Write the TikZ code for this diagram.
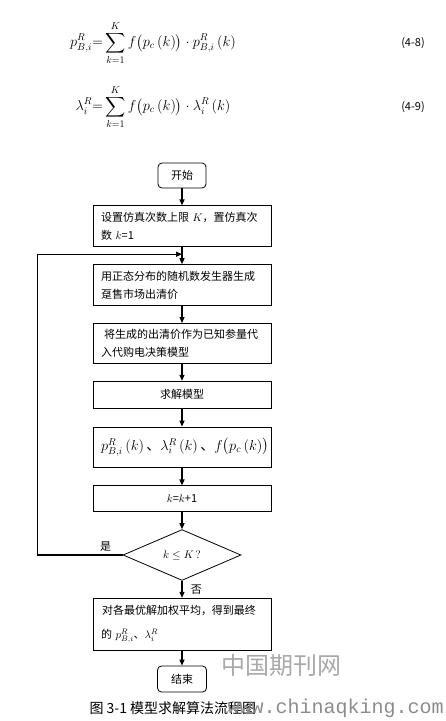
\documentclass[tikz,border=0pt]{standalone}
\usepackage{amsmath,amssymb}
\usepackage{fontspec}
\newfontfamily\cjk{Noto Sans CJK SC}
\newfontfamily\wmono{Liberation Mono}
\usetikzlibrary{arrows.meta,positioning,shapes.geometric}

\begin{document}
\begin{tikzpicture}[
  x=1pt, y=1pt,
  node distance=17pt,
  box/.style={rectangle, draw=black, line width=0.8pt,
              minimum height=41pt, inner xsep=8pt, text width=162pt,
              align=left, font=\cjk\fontsize{11}{18}\selectfont},
  cbox/.style={box, align=center},
  tbox/.style={rectangle, draw=black, line width=0.8pt, rounded corners=4pt,
               minimum width=48pt, minimum height=25pt,
               font=\cjk\fontsize{11}{13}\selectfont},
  dbox/.style={diamond, draw=black, line width=0.8pt, inner sep=1pt,
               minimum width=118pt, minimum height=45pt,
               font=\fontsize{11}{13}\selectfont},
  lbl/.style={font=\cjk\fontsize{11}{13}\selectfont},
  arr/.style={-{Triangle[length=6pt,width=5pt]}, line width=1.2pt, draw=black}
]
\useasboundingbox (0,0) rectangle (446,-721);
%% ── Equations (top) ─────────────────────────────────────────────────────
\node (eqa) at (153,-43) {\fontsize{14}{16}\selectfont
  $\displaystyle p_{B,i}^{R}{=}\sum_{k=1}^{K} f\bigl(p_c\,(k)\bigr)\cdot p_{B,i}^{R}\,(k)$};
\node[lbl] (taga) at (413,-43) {(4-8)};
\node (eqb) at (153,-107) {\fontsize{14}{16}\selectfont
  $\displaystyle \lambda_{i}^{R}{=}\sum_{k=1}^{K} f\bigl(p_c\,(k)\bigr)\cdot \lambda_{i}^{R}\,(k)$};
\node[lbl] (tagb) at (413,-107) {(4-9)};
%% ── Flow chart (top → bottom) ───────────────────────────────────────────
\node[tbox] (start) at (182,-175.5) {开始};
\node[box, below=of start] (set)
      {设置仿真次数上限 $K$，置仿真次\\数 $k$=1};
\node[box, below=of set] (gen)
      {用正态分布的随机数发生器生成\\趸售市场出清价};
\node[box, below=of gen, minimum height=40pt] (use)
      {\hspace{3pt}将生成的出清价作为已知参量代\\入代购电决策模型};
\node[cbox, below=of use, minimum height=27pt] (solve) {求解模型};
\node[cbox, below=18pt of solve, minimum height=40pt,
      font=\fontsize{14}{16}\selectfont] (res)
      {$p_{B,i}^{R}\,(k)$\,{\cjk 、}$\lambda_{i}^{R}\,(k)$\,{\cjk 、}$f\bigl(p_c\,(k)\bigr)$};
\node[cbox, below=18pt of res, minimum height=26pt] (inc) {$k$=$k$+1};
\node[dbox, below=of inc] (chk) {$k\leq K\,?$};
\node[box, below=of chk, minimum height=52pt, inner xsep=8pt] (avg)
      {\hspace{1pt}对各最优解加权平均，得到最终\\[6pt]的 $p_{B,i}^{R}$、$\lambda_{i}^{R}$};
\node[tbox, below=15pt of avg, minimum width=49pt, minimum height=26pt] (stop) {结束};
%% ── Caption and marks ───────────────────────────────────────────────────
\node[anchor=west, text=black!75, font=\cjk\fontsize{24}{26}\selectfont,
      text opacity=0.45] (wmk) at (218,-665) {中国期刊网};
\node[anchor=west, font=\cjk\fontsize{14}{16}\selectfont] (cap) at (86,-708)
      {图 3-1 模型求解算法流程图};
\node[anchor=west, text=black!45, font=\wmono\fontsize{20}{22}\selectfont]
      (url) at (224,-708) {www.chinaqking.com};
%% ── Arrows ──────────────────────────────────────────────────────────────
\coordinate (join) at ([yshift=-7pt]set.south);
\draw[arr] (start) -- (set);
\draw[arr] (set)   -- (gen);
\draw[arr] (gen)   -- (use);
\draw[arr] (use)   -- (solve);
\draw[arr] (solve) -- (res);
\draw[arr] (res)   -- (inc);
\draw[arr] (inc)   -- (chk);
\draw[arr] (chk)   -- node[lbl, right=5pt]{否} (avg);
\draw[arr] (avg)   -- (stop);
%% ── Loop back (是) ──────────────────────────────────────────────────────
\draw[arr] (chk.west) -- node[lbl, above, pos=0.2]{是} ++(-85,0) |- (join);
\end{tikzpicture}
\end{document}
